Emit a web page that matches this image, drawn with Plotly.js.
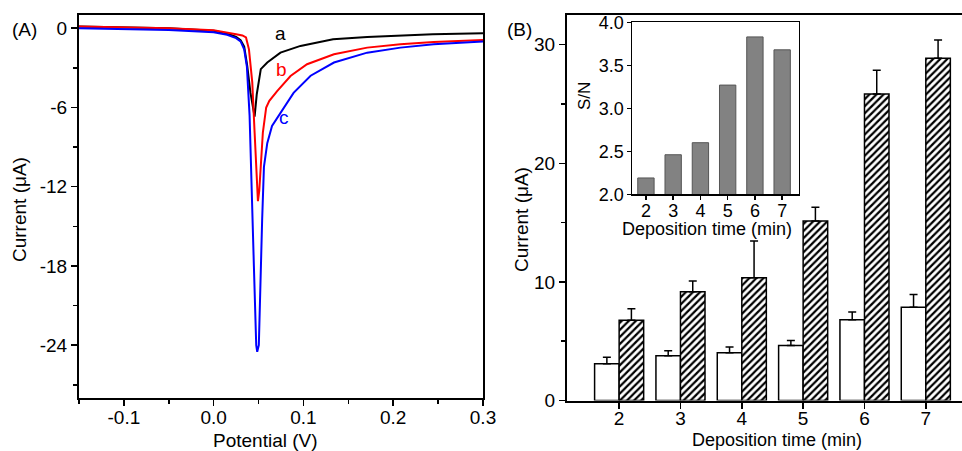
<!DOCTYPE html>
<html>
<head>
<meta charset="utf-8">
<script src="https://cdn.plot.ly/plotly-3.0.1.min.js"></script>
<style>html,body{margin:0;padding:0;background:#fff}#chart{width:962px;height:451px}</style>
</head>
<body>
<div id="chart"></div>
<script>
// Panel A: stripping voltammograms
const potA = [-0.15,-0.10,-0.05,0.0,0.015,0.025,0.030,0.034,0.0374,0.041,0.0445,0.0456,0.048,0.0505,0.0525,0.0597,0.0744,0.0967,0.133,0.171,0.208,0.244,0.3];
const curA = [0.12,0.08,0.0,-0.2,-0.4,-0.65,-0.9,-1.4,-2.86,-4.9,-6.3,-6.7,-5.0,-3.8,-3.1,-2.6,-1.85,-1.34,-0.84,-0.66,-0.53,-0.46,-0.38];
const potB = [-0.15,-0.10,-0.05,0.0,0.015,0.025,0.032,0.036,0.0393,0.043,0.0456,0.0478,0.0493,0.0508,0.0522,0.0548,0.0585,0.062,0.0707,0.0856,0.104,0.134,0.171,0.208,0.245,0.3];
const curB = [0.12,0.08,0.0,-0.15,-0.3,-0.45,-0.55,-0.7,-1.6,-4.1,-7.9,-11.7,-13.1,-12.3,-10.5,-7.9,-6.0,-5.5,-4.76,-3.62,-2.73,-1.97,-1.47,-1.21,-1.04,-0.89];
const potC = [-0.15,-0.10,-0.05,0.0,0.015,0.025,0.030,0.034,0.037,0.040,0.043,0.0448,0.0474,0.0485,0.0503,0.0522,0.054,0.056,0.0597,0.065,0.0744,0.089,0.108,0.134,0.171,0.208,0.245,0.3];
const curC = [0.0,-0.05,-0.13,-0.3,-0.5,-0.75,-1.0,-1.6,-2.9,-6.6,-14.8,-18.0,-24.0,-24.5,-24.0,-18.0,-14.5,-10.5,-8.7,-7.4,-6.4,-4.9,-3.6,-2.6,-1.85,-1.47,-1.21,-1.01];
const tickA_x = ['-0.1','0.0','0.1','0.2','0.3'];
const tickA_y = ['0','-6','-12','-18','-24'];

// Panel B: currents vs deposition time
const depTime = [2,3,4,5,6,7];
const curWhite = [3.1,3.77,4.02,4.63,6.8,7.87];
const errWhite = [0.55,0.42,0.5,0.43,0.67,1.06];
const curHatch = [6.77,9.16,10.34,15.14,25.84,28.85];
const errHatch = [0.96,0.92,3.1,1.15,2.0,1.54];
// Inset: S/N
const snRatio = [2.19,2.46,2.60,3.27,3.83,3.68];
const zeros = [0,0,0,0,0,0];

const F = 'Liberation Sans, Arial, sans-serif';
const fs = 19;
const fi = 18;

const traces = [
  {x: potA, y: curA, type:'scatter', mode:'lines', line:{color:'#000000', width:2}, xaxis:'x', yaxis:'y', showlegend:false},
  {x: potB, y: curB, type:'scatter', mode:'lines', line:{color:'#ff0000', width:2}, xaxis:'x', yaxis:'y', showlegend:false},
  {x: potC, y: curC, type:'scatter', mode:'lines', line:{color:'#0000ff', width:2}, xaxis:'x', yaxis:'y', showlegend:false},
  {x: depTime, y: curWhite, type:'bar', xaxis:'x2', yaxis:'y2', showlegend:false,
   marker:{color:'#ffffff', line:{color:'#000000', width:1.5}},
   error_y:{type:'data', symmetric:false, array: errWhite, arrayminus: zeros, color:'#000', thickness:1.5, width:4}},
  {x: depTime, y: curHatch, type:'bar', xaxis:'x2', yaxis:'y2', showlegend:false,
   marker:{color:'#ffffff', line:{color:'#000000', width:1.5},
     pattern:{shape:'/', fgcolor:'#000000', bgcolor:'#ffffff', size:5, solidity:0.45}},
   error_y:{type:'data', symmetric:false, array: errHatch, arrayminus: zeros, color:'#000', thickness:1.5, width:4}},
  {x: depTime, y: snRatio, type:'bar', xaxis:'x3', yaxis:'y3', showlegend:false, width:0.6,
   marker:{color:'#828282', line:{color:'#555555', width:1}}}
];

const axBase = {showgrid:false, zeroline:false, showline:true, linecolor:'#000', linewidth:2,
  ticks:'outside', ticklen:6, tickwidth:1.5, tickcolor:'#000',
  tickfont:{family:F, size:fs, color:'#000'}, automargin:false};

function lbl(text, x, y, size, angle, color) {
  return {text:text, xref:'paper', yref:'paper', x:x/962, y:1-y/451, xanchor:'center', yanchor:'middle',
    showarrow:false, textangle:angle||0, font:{family:F, size:size, color:color||'#000'}};
}

const layout = {
  width:962, height:451,
  margin:{l:0, r:0, t:0, b:0},
  paper_bgcolor:'#fff', plot_bgcolor:'rgba(0,0,0,0)',
  barmode:'group', bargap:0.2, bargroupgap:0,
  xaxis: Object.assign({}, axBase, {domain:[79/962, 483/962], anchor:'y', range:[-0.15,0.3],
    tickvals:[-0.1,0,0.1,0.2,0.3], ticktext:tickA_x, mirror:true, ticklabelstandoff:-5,
    minor:{tickvals:[-0.15,-0.05,0.05,0.15,0.25], ticks:'outside', ticklen:4, tickwidth:1.5, tickcolor:'#000'}}),
  yaxis: Object.assign({}, axBase, {domain:[1-398/451, 1-15/451], anchor:'x', range:[-28,1],
    tickvals:[0,-6,-12,-18,-24], ticktext:tickA_y, mirror:true,
    minor:{tickvals:[-3,-9,-15,-21,-27], ticks:'outside', ticklen:4, tickwidth:1.5, tickcolor:'#000'}}),
  xaxis2: Object.assign({}, axBase, {domain:[567/962, 1], anchor:'y2', range:[1.15, 7.59],
    tickvals:depTime, mirror:true, ticklabelstandoff:-6}),
  yaxis2: Object.assign({}, axBase, {domain:[1-400.5/451, 1-15/451], anchor:'x2', range:[0,32.5],
    tickvals:[0,10,20,30], mirror:false,
    minor:{tickvals:[5,15,25], ticks:'outside', ticklen:4, tickwidth:1.5, tickcolor:'#000'}}),
  xaxis3: Object.assign({}, axBase, {domain:[632.3/962, 798.5/962], anchor:'y3', range:[1.5,7.6],
    tickvals:depTime, mirror:true, ticklen:4, linewidth:1.8, ticklabelstandoff:-5,
    tickfont:{family:F, size:fi, color:'#000'}}),
  yaxis3: Object.assign({}, axBase, {domain:[1-194.3/451, 1-22.3/451], anchor:'x3', range:[2,4],
    tickvals:[2,2.5,3,3.5,4], tickformat:'.1f', mirror:true, ticklen:4, linewidth:1.8, ticklabelstandoff:-1,
    tickfont:{family:F, size:fi, color:'#000'}}),
  annotations:[
    lbl('(A)', 24, 29, fs),
    lbl('(B)', 519, 29, fs),
    lbl('Potential (V)', 265, 440, fs),
    lbl('Current (\u03bcA)', 20, 210, fs, -90),
    lbl('Deposition time (min)', 777, 440, 18),
    lbl('Current (\u03bcA)', 521, 220, fs, -90),
    lbl('Deposition time (min)', 707, 229, fi),
    lbl('S/N', 584, 96, 17, -90),
    {text:'a', xref:'x', yref:'y', x:0.0744, y:-0.4, showarrow:false, font:{family:F, size:fs, color:'#000'}},
    {text:'b', xref:'x', yref:'y', x:0.0756, y:-3.1, showarrow:false, font:{family:F, size:fs, color:'#ff0000'}},
    {text:'c', xref:'x', yref:'y', x:0.078, y:-6.76, showarrow:false, font:{family:F, size:fs, color:'#0000ff'}}
  ]
};

Plotly.newPlot('chart', traces, layout, {displayModeBar:false, staticPlot:true});
</script>
</body>
</html>
